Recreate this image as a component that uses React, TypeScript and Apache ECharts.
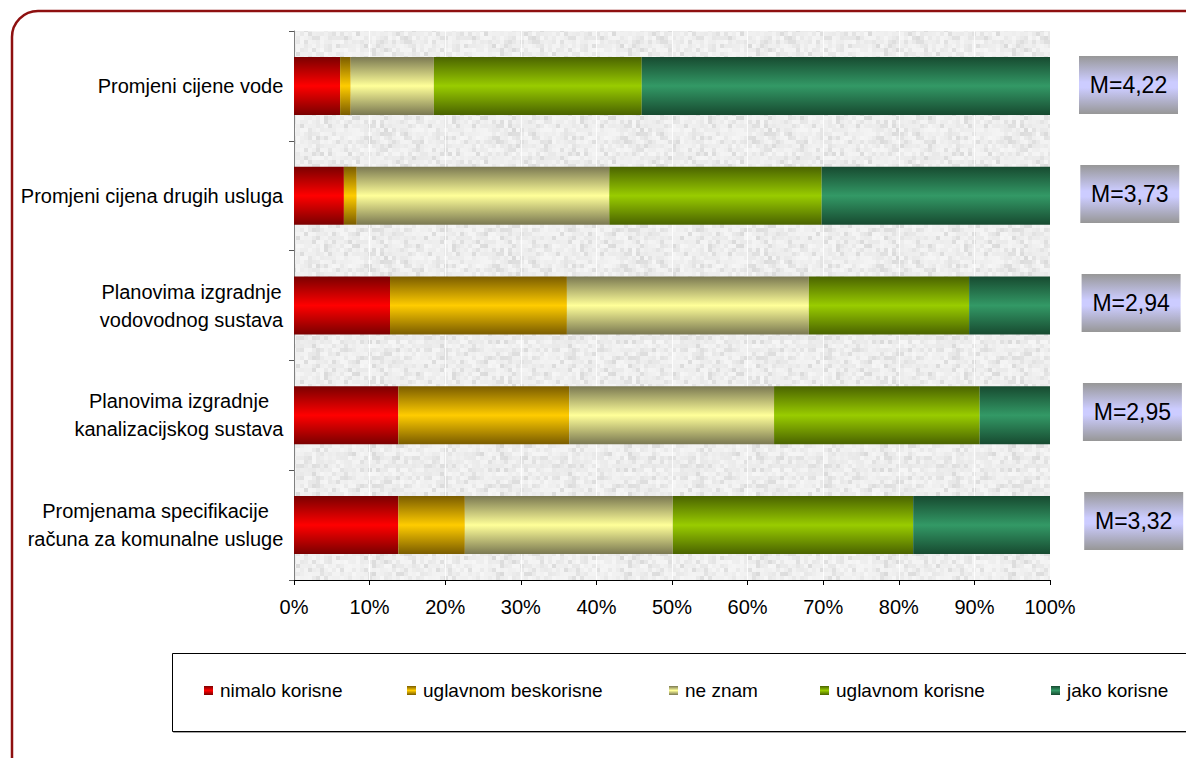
import React, { useEffect, useRef } from "react";
import * as echarts from "echarts";

const categories = [
  "Promjeni cijene vode",
  "Promjeni cijena drugih usluga",
  "Planovima izgradnje\nvodovodnog sustava",
  "Planovima izgradnje\nkanalizacijskog sustava",
  "Promjenama specifikacije\nračuna za komunalne usluge",
];
const seriesNames = ["nimalo korisne", "uglavnom beskorisne", "ne znam", "uglavnom korisne", "jako korisne"];
const nimaloKorisne = [6.1, 6.6, 12.7, 13.8, 13.8];
const uglavnomBeskorisne = [1.4, 1.7, 23.4, 22.6, 8.8];
const neZnam = [11.0, 33.4, 32.0, 27.1, 27.5];
const uglavnomKorisne = [27.5, 28.1, 21.2, 27.2, 31.8];
const jakoKorisne = [54.0, 30.2, 10.7, 9.3, 18.1];
const means = [4.22, 3.73, 2.94, 2.95, 3.32];
const xTicks = [0, 10, 20, 30, 40, 50, 60, 70, 80, 90, 100];

const seriesValues = [nimaloKorisne, uglavnomBeskorisne, neZnam, uglavnomKorisne, jakoKorisne];
const colorPairs: [string, string][] = [
  ["#7a0000", "#ff0000"],
  ["#7a5c00", "#ffcc00"],
  ["#7a7852", "#ffff99"],
  ["#4a6300", "#99cc00"],
  ["#174a30", "#339966"],
];
const legendLefts = [204, 407, 669, 820, 1051];

const FONT = '"Liberation Sans", Arial, sans-serif';

function grad(dark: string, bright: string) {
  return new echarts.graphic.LinearGradient(0, 0, 0, 1, [
    { offset: 0, color: dark },
    { offset: 0.5, color: bright },
    { offset: 1, color: dark },
  ]);
}

function makeTexture(): HTMLCanvasElement {
  const c = document.createElement("canvas");
  const cell = 4;
  const n = 32;
  c.width = n * cell;
  c.height = n * cell;
  const ctx = c.getContext("2d")!;
  for (let i = 0; i < n; i++) {
    for (let j = 0; j < n; j++) {
      let h = (i * 374761393 + j * 668265263) | 0;
      h = Math.imul(h ^ (h >>> 13), 1274126177);
      h = (h ^ (h >>> 16)) >>> 0;
      const r = (h % 1000) / 1000;
      const v = r < 0.2 ? Math.round(218 + r * 60) : Math.round(232 + ((r - 0.2) / 0.8) * 14);
      ctx.fillStyle = `rgb(${v},${v},${v})`;
      ctx.fillRect(i * cell, j * cell, cell, cell);
    }
  }
  return c;
}

function measure(text: string, font: string): number {
  const c = document.createElement("canvas");
  const ctx = c.getContext("2d")!;
  ctx.font = font;
  return ctx.measureText(text).width;
}

export default function App() {
  const ref = useRef<HTMLDivElement>(null);

  useEffect(() => {
    if (!ref.current) return;
    const chart = echarts.init(ref.current, undefined, { renderer: "svg" });

    const rich: Record<string, any> = {};
    categories.forEach((cat, i) => {
      const lines = cat.split("\n");
      const w = Math.ceil(Math.max(...lines.map((l) => measure(l, `20px ${FONT}`)))) + 1;
      rich["c" + i] = { width: w, align: "center", fontSize: 20, lineHeight: 28, fontFamily: FONT, color: "#000" };
    });

    const barSeries = seriesNames.map((name, k) => ({
      name,
      type: "bar",
      stack: "total",
      barWidth: 58,
      data: seriesValues[k],
      itemStyle: { color: grad(colorPairs[k][0], colorPairs[k][1]) },
      emphasis: { disabled: true },
    }));

    const boxFill = new echarts.graphic.LinearGradient(0, 0, 0, 1, [
      { offset: 0, color: "#979797" },
      { offset: 0.45, color: "#ccccff" },
      { offset: 0.55, color: "#ccccff" },
      { offset: 1, color: "#979797" },
    ]);

    const option: any = {
      animation: false,
      grid: {
        left: 294,
        right: 136,
        top: 31,
        bottom: 178,
        show: true,
        borderWidth: 0,
        backgroundColor: { image: makeTexture(), repeat: "repeat" },
      },
      xAxis: {
        type: "value",
        min: 0,
        max: 100,
        interval: 10,
        axisLine: { show: true, lineStyle: { color: "#000", width: 1 } },
        axisTick: { show: true, length: 5, lineStyle: { color: "#000" } },
        axisLabel: {
          margin: 17,
          fontSize: 20,
          fontFamily: FONT,
          color: "#000",
          formatter: (v: number) => (xTicks.includes(v) ? v + "%" : ""),
        },
        splitLine: { show: true, lineStyle: { color: "rgba(255,255,255,0.85)", width: 1 } },
      },
      yAxis: {
        type: "category",
        inverse: true,
        data: categories,
        axisLine: { show: true, lineStyle: { color: "#808080", width: 1 } },
        axisTick: { show: true, length: 5, alignWithLabel: false, lineStyle: { color: "#555" } },
        axisLabel: {
          margin: 10,
          fontSize: 20,
          fontFamily: FONT,
          color: "#000",
          formatter: (value: string, index: number) =>
            value
              .split("\n")
              .map((l) => `{c${index}|${l}}`)
              .join("\n"),
          rich,
        },
        splitLine: { show: false },
      },
      legend: seriesNames.map((name, k) => ({
        data: [name],
        left: legendLefts[k],
        top: 681,
        padding: 0,
        itemWidth: 9,
        itemHeight: 9,
        icon: "rect",
        selectedMode: false,
        textStyle: { fontSize: 19, fontFamily: FONT, color: "#000", padding: [0, 0, 0, 2] },
      })),
      graphic: [
        {
          type: "rect",
          silent: true,
          z: -10,
          shape: { x: 12, y: 11, width: 1200, height: 775, r: 26 },
          style: { fill: "none", stroke: "#8e1010", lineWidth: 2.5 },
        },
        {
          type: "rect",
          silent: true,
          z: 0,
          shape: { x: 172.5, y: 653.5, width: 1030, height: 78 },
          style: { fill: "#fff", stroke: "#000", lineWidth: 1, shadowColor: "rgba(0,0,0,0.35)", shadowOffsetX: 1, shadowOffsetY: 1, shadowBlur: 1 },
        },
      ],
      series: [
        ...barSeries,
        {
          type: "custom",
          name: "M",
          coordinateSystem: "cartesian2d",
          clip: false,
          z: 10,
          encode: { x: 0, y: 1 },
          data: means.map((m, i) => [100, i, m]),
          renderItem: (_params: any, api: any) => {
            const idx = api.value(1);
            const p = api.coord([100, idx]);
            const w = 99;
            const h = 58;
            const x = p[0] + 29 + idx * 1.3;
            const y = p[1] - h / 2 - 1 - idx * 0.8;
            return {
              type: "group",
              children: [
                { type: "rect", shape: { x, y, width: w, height: h }, style: { fill: boxFill } },
                {
                  type: "text",
                  style: {
                    text: "M=" + Number(api.value(2)).toFixed(2).replace(".", ","),
                    x: x + w / 2,
                    y: y + h / 2,
                    align: "center",
                    verticalAlign: "middle",
                    fontSize: 23,
                    fontFamily: FONT,
                    fill: "#000",
                  },
                },
              ],
            };
          },
        },
      ],
    };

    chart.setOption(option);
    return () => chart.dispose();
  }, []);

  return (
    <div
      ref={ref}
      style={{ position: "absolute", left: 0, top: 0, width: 1186, height: 758, background: "#fff" }}
    />
  );
}
